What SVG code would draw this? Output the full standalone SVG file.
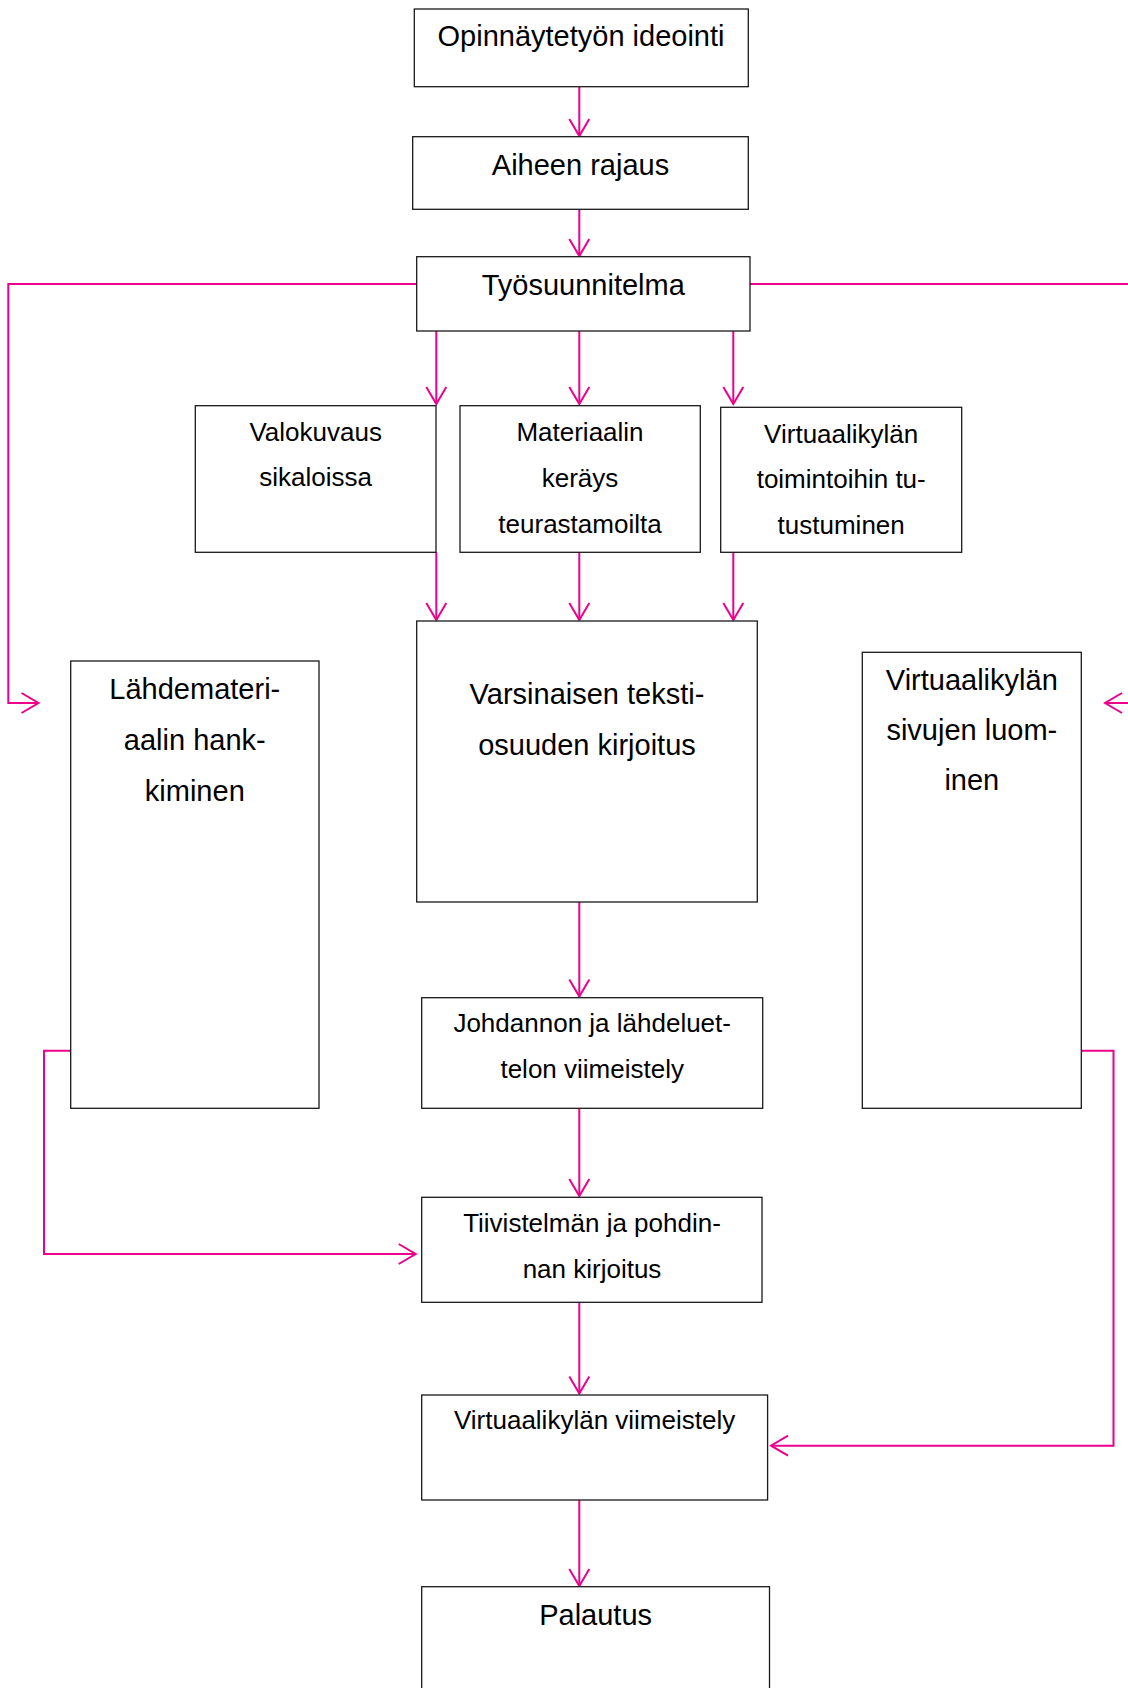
<svg xmlns="http://www.w3.org/2000/svg" width="1128" height="1688" viewBox="0 0 1128 1688">
  <style>
    .box { fill: #ffffff; stroke: #1a1a1a; stroke-width: 1.3; }
    .t { font-family: "Liberation Sans", Arial, sans-serif; fill: #000000; text-anchor: middle; }
    .l { font-size: 29px; }
    .s { font-size: 26px; }
    .c { fill: none; stroke: #EC008C; stroke-width: 2; }
  </style>
  <defs>
    <marker id="arr" markerUnits="userSpaceOnUse" viewBox="-20 -12 22 24" refX="0" refY="0" markerWidth="22" markerHeight="24" orient="auto" overflow="visible">
      <path d="M-17,-10 L0,0 L-17,10" fill="none" stroke="#EC008C" stroke-width="2"/>
    </marker>
  </defs>
  <rect width="1128" height="1688" fill="#ffffff"/>

  <g id="connectors">
    <path class="c" d="M579.3,86.7 V136" marker-end="url(#arr)"/>
    <path class="c" d="M579.3,209.3 V256" marker-end="url(#arr)"/>
    <path class="c" d="M436.3,331 V404" marker-end="url(#arr)"/>
    <path class="c" d="M579.3,331 V404" marker-end="url(#arr)"/>
    <path class="c" d="M733.3,331 V404" marker-end="url(#arr)"/>
    <path class="c" d="M436.3,552.3 V620" marker-end="url(#arr)"/>
    <path class="c" d="M579.3,552.3 V620" marker-end="url(#arr)"/>
    <path class="c" d="M733.3,552.3 V620" marker-end="url(#arr)"/>
    <path class="c" d="M579.3,902 V996.5" marker-end="url(#arr)"/>
    <path class="c" d="M579.3,1108.3 V1196" marker-end="url(#arr)"/>
    <path class="c" d="M579.3,1302.3 V1393.5" marker-end="url(#arr)"/>
    <path class="c" d="M579.3,1500 V1586" marker-end="url(#arr)"/>
    <path class="c" d="M416.7,284 H8.3 V703 H38.5" marker-end="url(#arr)"/>
    <path class="c" d="M750,284 H1140 V703 H1105" marker-end="url(#arr)"/>
    <path class="c" d="M70.7,1050.7 H44 V1254 H415.7" marker-end="url(#arr)"/>
    <path class="c" d="M1081.3,1050.7 H1113.5 V1445.7 H771" marker-end="url(#arr)"/>
  </g>

  <g id="n1">
    <rect class="box" x="414.3" y="9" width="334" height="77.7"/>
    <text class="t l" x="581" y="46">Opinnäytetyön ideointi</text>
  </g>
  <g id="n2">
    <rect class="box" x="412.7" y="136.7" width="335.6" height="72.6"/>
    <text class="t l" x="580.5" y="175">Aiheen rajaus</text>
  </g>
  <g id="n3">
    <rect class="box" x="416.7" y="256.7" width="333.3" height="74.3"/>
    <text class="t l" x="583.3" y="295">Työsuunnitelma</text>
  </g>
  <g id="n4">
    <rect class="box" x="195.3" y="405.7" width="240.7" height="146.6"/>
    <text class="t s" x="315.7" y="441">Valokuvaus</text>
    <text class="t s" x="315.7" y="485.7">sikaloissa</text>
  </g>
  <g id="n5">
    <rect class="box" x="460" y="405.7" width="240.3" height="146.6"/>
    <text class="t s" x="580" y="441">Materiaalin</text>
    <text class="t s" x="580" y="486.7">keräys</text>
    <text class="t s" x="580" y="532.7">teurastamoilta</text>
  </g>
  <g id="n6">
    <rect class="box" x="720.7" y="407.3" width="241" height="145"/>
    <text class="t s" x="841.2" y="442.7">Virtuaalikylän</text>
    <text class="t s" x="841.2" y="488.3">toimintoihin tu-</text>
    <text class="t s" x="841.2" y="534">tustuminen</text>
  </g>
  <g id="n7">
    <rect class="box" x="70.7" y="661" width="248.3" height="447.3"/>
    <text class="t l" x="194.8" y="699.3">Lähdemateri-</text>
    <text class="t l" x="194.8" y="750">aalin hank-</text>
    <text class="t l" x="194.8" y="800.7">kiminen</text>
  </g>
  <g id="n8">
    <rect class="box" x="416.7" y="621" width="340.6" height="281"/>
    <text class="t l" x="587" y="704.3">Varsinaisen teksti-</text>
    <text class="t l" x="587" y="755">osuuden kirjoitus</text>
  </g>
  <g id="n9">
    <rect class="box" x="862.3" y="652.3" width="219" height="456"/>
    <text class="t l" x="971.8" y="690">Virtuaalikylän</text>
    <text class="t l" x="971.8" y="740">sivujen luom-</text>
    <text class="t l" x="971.8" y="790.3">inen</text>
  </g>
  <g id="n10">
    <rect class="box" x="421.7" y="997.7" width="341" height="110.6"/>
    <text class="t s" x="592.2" y="1032.3">Johdannon ja lähdeluet-</text>
    <text class="t s" x="592.2" y="1078.3">telon viimeistely</text>
  </g>
  <g id="n11">
    <rect class="box" x="421.7" y="1197.3" width="340.3" height="105"/>
    <text class="t s" x="592" y="1231.7">Tiivistelmän ja pohdin-</text>
    <text class="t s" x="592" y="1278.3">nan kirjoitus</text>
  </g>
  <g id="n12">
    <rect class="box" x="421.7" y="1395" width="345.9" height="105"/>
    <text class="t s" x="594.6" y="1429.3">Virtuaalikylän viimeistely</text>
  </g>
  <g id="n13">
    <rect class="box" x="421.7" y="1586.7" width="347.8" height="130"/>
    <text class="t l" x="595.6" y="1625">Palautus</text>
  </g>
</svg>
